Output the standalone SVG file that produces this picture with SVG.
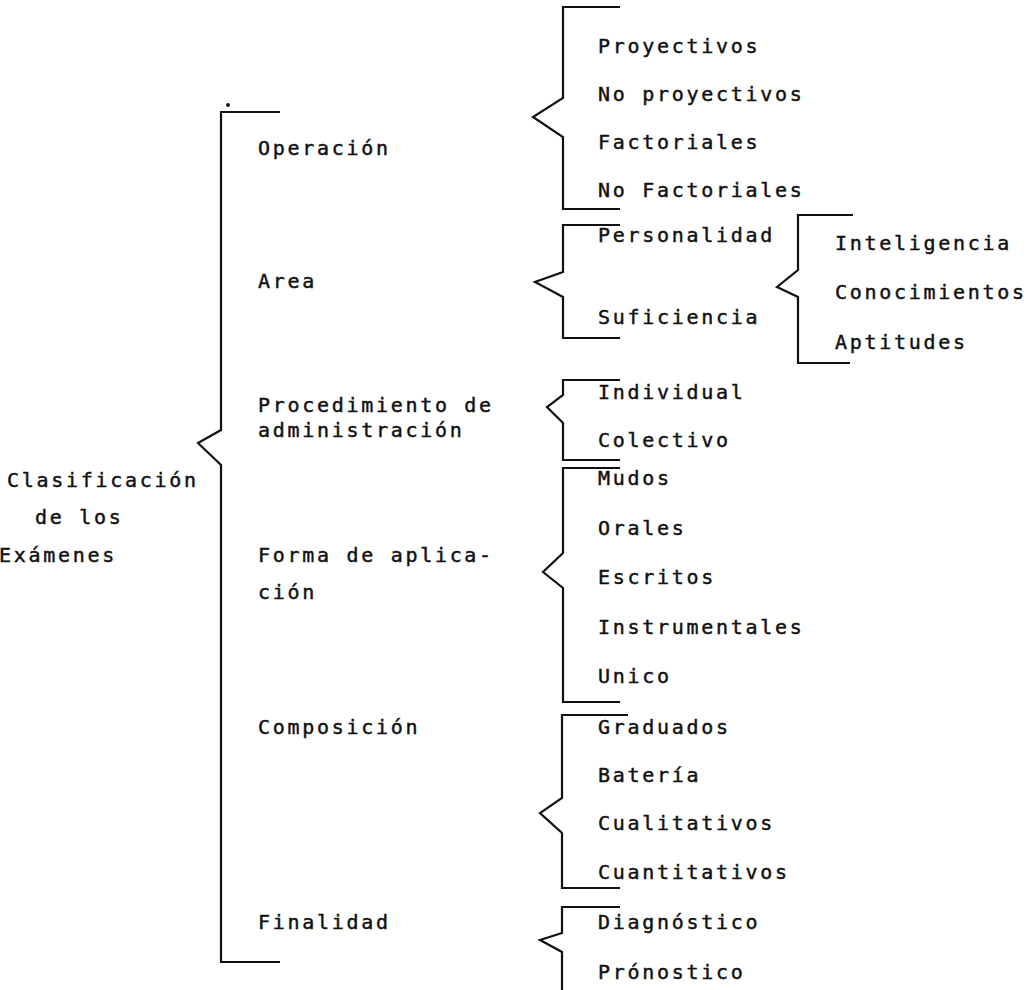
<svg xmlns="http://www.w3.org/2000/svg" width="1035" height="990" viewBox="0 0 1035 990">
<style>
text{font-family:"DejaVu Sans Mono","Liberation Mono",monospace;font-size:20px;letter-spacing:2.7px;fill:#111;stroke:#111;stroke-width:0.45px}
.br{fill:none;stroke:#111;stroke-width:2.2;stroke-linejoin:miter}
</style>
<rect width="1035" height="990" fill="#fff"/>
<g id="connectors">
<path class="br" d="M280,112 H221 V430 L198,443 L221,465 V962 H280"/>
<circle cx="228" cy="105" r="2" fill="#111"/>
<path class="br" d="M620,7 H563 V98 L533,117 L563,137 V209 H620"/>
<path class="br" d="M620,225 H563 V272 L535,282 L563,297 V338 H620"/>
<path class="br" d="M853,215 H798 V270 L777,287 L798,297 V363 H850"/>
<path class="br" d="M620,380 H563 V395 L547,407 L563,423 V460 H620"/>
<path class="br" d="M620,468 H563 V553 L543,572 L563,588 V702 H620"/>
<path class="br" d="M628,715 H562 V798 L540,813 L562,833 V888 H620"/>
<path class="br" d="M620,907 H562 V933 L540,940 L562,952 V990"/>
</g>
<g id="root"><text x="7" y="487">Clasificación</text><text x="35" y="524">de los</text><text x="-1" y="562">Exámenes</text></g>
<g id="operacion"><text x="258" y="155">Operación</text></g>
<g id="area"><text x="258" y="288">Area</text></g>
<g id="procedimiento"><text x="258" y="412">Procedimiento de</text><text x="258" y="437">administración</text></g>
<g id="forma"><text x="258" y="562">Forma de aplica-</text><text x="258" y="599">ción</text></g>
<g id="composicion"><text x="258" y="734">Composición</text></g>
<g id="finalidad"><text x="258" y="929">Finalidad</text></g>
<g id="op-items"><text x="598" y="53">Proyectivos</text><text x="598" y="101">No proyectivos</text><text x="598" y="149">Factoriales</text><text x="598" y="197">No Factoriales</text></g>
<g id="area-items"><text x="598" y="242">Personalidad</text><text x="598" y="324">Suficiencia</text></g>
<g id="suf-items"><text x="835" y="250">Inteligencia</text><text x="835" y="299">Conocimientos</text><text x="835" y="349">Aptitudes</text></g>
<g id="proc-items"><text x="598" y="399">Individual</text><text x="598" y="447">Colectivo</text></g>
<g id="forma-items"><text x="598" y="485">Mudos</text><text x="598" y="535">Orales</text><text x="598" y="584">Escritos</text><text x="598" y="634">Instrumentales</text><text x="598" y="683">Unico</text></g>
<g id="comp-items"><text x="598" y="734">Graduados</text><text x="598" y="782">Batería</text><text x="598" y="830">Cualitativos</text><text x="598" y="879">Cuantitativos</text></g>
<g id="fin-items"><text x="598" y="929">Diagnóstico</text><text x="598" y="979">Prónostico</text></g>
</svg>
